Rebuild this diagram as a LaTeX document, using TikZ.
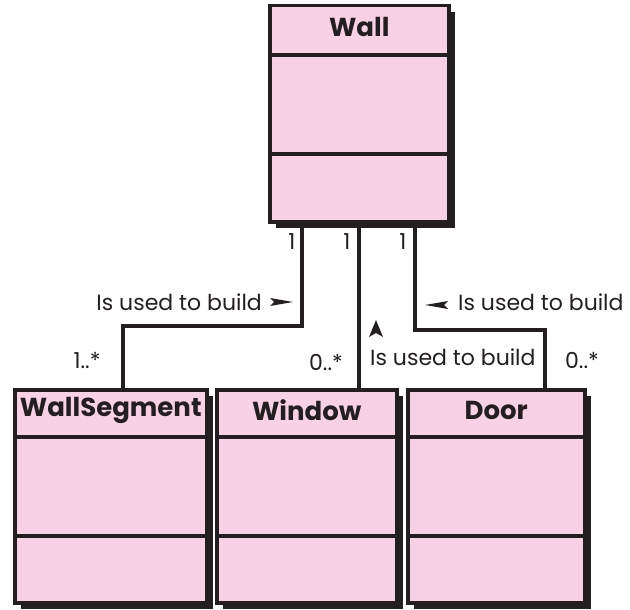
\documentclass[tikz,border=0pt]{standalone}
\usepackage{fontspec}
\setmainfont{Poppins}
\usetikzlibrary{shadows}

\definecolor{classpink}{RGB}{249,209,229}
\definecolor{inkblack}{RGB}{35,31,32}

\tikzset{
  umlclass/.style={draw=inkblack, line width=3.5pt, fill=classpink, anchor=north west, inner sep=0pt,
    drop shadow={shadow xshift=6pt, shadow yshift=-6pt, fill=inkblack, opacity=1}},
  classtitle/.style={font=\fontsize{26}{28}\selectfont\bfseries, text=inkblack, inner sep=0pt},
  lbl/.style={font=\fontsize{22}{24}\selectfont, text=inkblack, inner sep=0pt},
  divider/.style={draw=inkblack, line width=3.5pt},
  assoc/.style={draw=inkblack, line width=4pt},
  marker/.style={fill=inkblack},
}

\begin{document}
\begin{tikzpicture}[x=1pt, y=-1pt]
    \useasboundingbox (0,0) rectangle (630,610);

    % Classes
    \node[umlclass, minimum width=179pt, minimum height=216pt] (wall) at (268,4) {};
    \node[umlclass, minimum width=192pt, minimum height=213pt] (segment) at (13,388) {};
    \node[umlclass, minimum width=180pt, minimum height=213pt] (window) at (215,388) {};
    \node[umlclass, minimum width=177pt, minimum height=213pt] (door) at (406,388) {};

    % Names
    \node[classtitle] (wallname) at ([yshift=-23pt]wall.north) {Wall};
    \node[classtitle] (segmentname) at ([yshift=-22pt]segment.north) {WallSegment};
    \node[classtitle] (windowname) at ([yshift=-22pt]window.north) {Window};
    \node[classtitle] (doorname) at ([yshift=-22pt]door.north) {Door};

    % Compartments
    \draw[divider] ([yshift=-51pt]wall.north west) -- ([yshift=-51pt]wall.north east);
    \draw[divider] ([yshift=-150pt]wall.north west) -- ([yshift=-150pt]wall.north east);
    \foreach \c in {segment, window, door} {
        \draw[divider] ([yshift=-49pt]\c.north west) -- ([yshift=-49pt]\c.north east);
        \draw[divider] ([yshift=-148pt]\c.north west) -- ([yshift=-148pt]\c.north east);
    }

    % Associations
    \draw[assoc] ([xshift=34pt]wall.south west) -- ++(0,102) -| ([xshift=110pt]segment.north west);
    \draw[assoc] ([xshift=91pt]wall.south west) -- ([xshift=144pt]window.north west);
    \draw[assoc] ([xshift=147pt]wall.south west) -- ++(0,106) -| ([xshift=139pt]door.north west);

    % Multiplicities
    \node[lbl] (oneA) at (292,242) {1};
    \node[lbl] (oneB) at (347,242) {1};
    \node[lbl] (oneC) at (403,242) {1};
    \node[lbl] (manyA) at (87,360) {1..*};
    \node[lbl] (manyB) at (326,362) {0..*};
    \node[lbl] (manyC) at (582,360) {0..*};

    % Role names
    \node[lbl, anchor=east] (buildA) at (262,302) {Is used to build};
    \node[lbl, anchor=west] (buildB) at (370,357) {Is used to build};
    \node[lbl, anchor=west] (buildC) at (458,302) {Is used to build};
    \fill[marker] (270,298) -- (293,302) -- (270,306) -- (274,302) -- cycle;
    \fill[marker] (376,320) -- (383,337) -- (376,333) -- (369,337) -- cycle;
    \fill[marker] (448,301) -- (425,305) -- (448,309) -- (444,305) -- cycle;
\end{tikzpicture}
\end{document}
